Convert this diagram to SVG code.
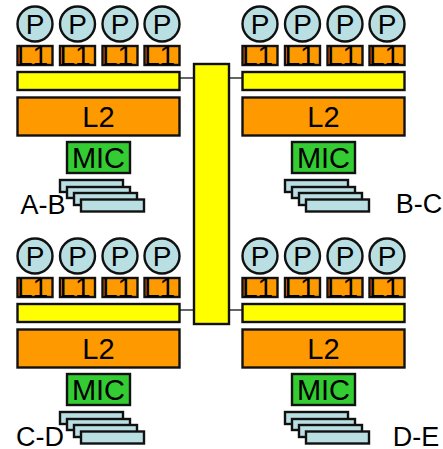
<svg xmlns="http://www.w3.org/2000/svg" xmlns:xlink="http://www.w3.org/1999/xlink" width="443" height="449" viewBox="0 0 443 449">
<style>
text{font-family:"Liberation Sans",Arial,sans-serif;fill:#000;text-anchor:middle}
.b{stroke:#111;stroke-width:2.4}
.p{fill:#b9dfe3}
.o{fill:#ff9900}
.y{fill:#ffff00}
.g{fill:#33cc33}
.t{font-size:28px}
.l{font-size:29px}
.lab{font-size:27px}
.c{stroke:#333;stroke-width:1.5;fill:none}
</style>
<defs>
<g id="cpu"><circle class="b p" cx="0" cy="24" r="17.5"/><text class="t" x="0" y="34">P</text>
<rect class="b o" x="-17.5" y="46" width="35" height="19"/><text class="t" x="-2.500" y="65">L1</text></g>
<g id="socket">
<use xlink:href="#cpu" x="35"/><use xlink:href="#cpu" x="77.5"/><use xlink:href="#cpu" x="120"/><use xlink:href="#cpu" x="162"/>
<rect class="b y" x="17.5" y="72" width="162" height="18"/>
<rect class="b o" x="17.5" y="97.5" width="162" height="38"/><text class="l" x="98.500" y="127">L2</text>
<rect class="b g" x="67" y="142" width="63" height="31"/><text class="l" x="98.500" y="168">MIC</text>
<rect class="b p" x="60" y="180" width="63" height="12"/>
<rect class="b p" x="67" y="187" width="63" height="11"/>
<rect class="b p" x="74" y="193" width="63" height="12"/>
<rect class="b p" x="81" y="199.500" width="63" height="12"/>
</g>
</defs>
<g id="connectors">
<path class="c" d="M180 78H194M229 78H243M180 310H194M229 310H243"/>
</g>
<g id="interconnect"><rect class="b y" x="194" y="64" width="35" height="260"/></g>
<g id="node-a"><use xlink:href="#socket"/><text class="lab" x="43" y="214">A-B</text></g>
<g id="node-b"><use xlink:href="#socket" x="225"/><text class="lab" x="419" y="213">B-C</text></g>
<g id="node-c"><use xlink:href="#socket" y="232"/><text class="lab" x="40" y="446">C-D</text></g>
<g id="node-d"><use xlink:href="#socket" x="225" y="232"/><text class="lab" x="416" y="446">D-E</text></g>
</svg>
